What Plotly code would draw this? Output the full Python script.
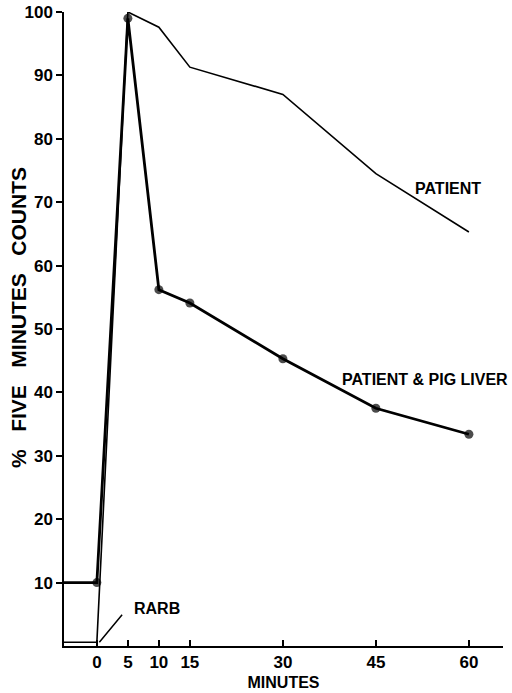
import plotly.graph_objects as go

# Data
patient_minutes = [-5.3, 0, 5, 10, 15, 30, 45, 60]
patient_counts = [0.6, 0.6, 100, 97.6, 91.3, 87.0, 74.5, 65.3]

pig_minutes = [-5.3, 0, 5, 10, 15, 30, 45, 60]
pig_counts = [10, 10, 99, 56.2, 54.1, 45.3, 37.5, 33.4]
pig_marker_sizes = [0, 9, 9, 9, 9, 9, 9, 9]

x_ticks = [0, 5, 10, 15, 30, 45, 60]
y_ticks = [10, 20, 30, 40, 50, 60, 70, 80, 90, 100]

FONT = "Liberation Sans"
W, H = 512, 693
L, R, T, B = 64, 9, 12, 47
pw, ph = W - L - R, H - T - B

fig = go.Figure()
fig.add_trace(go.Scatter(
    x=patient_minutes, y=patient_counts, mode="lines",
    line=dict(color="black", width=1.6), cliponaxis=False,
    name="PATIENT", showlegend=False,
))
fig.add_trace(go.Scatter(
    x=pig_minutes, y=pig_counts, mode="lines+markers",
    line=dict(color="black", width=2.8),
    marker=dict(color="black", size=pig_marker_sizes, line=dict(width=0)),
    cliponaxis=False, name="PATIENT & PIG LIVER", showlegend=False,
))

fig.add_annotation(x=0.4, y=0.6, xref="x", yref="y", text="",
                   showarrow=True, arrowhead=0, arrowwidth=1.5,
                   arrowcolor="black", ax=24, ay=-29)
fig.add_annotation(x=(132 - L) / pw, y=(646 - 608) / ph, xref="paper", yref="paper",
                   text="<b>RARB</b>", showarrow=False, xanchor="left", yanchor="middle",
                   font=dict(family=FONT, size=16, color="black"))
fig.add_annotation(x=56.6, y=72.2, xref="x", yref="y", text="<b>PATIENT</b>",
                   showarrow=False, font=dict(family=FONT, size=16, color="black"))
fig.add_annotation(x=52.9, y=42.1, xref="x", yref="y", text="<b>PATIENT &amp; PIG LIVER</b>",
                   showarrow=False, font=dict(family=FONT, size=16, color="black"))
# y-axis title
fig.add_annotation(x=(18 - L) / pw, y=(646 - 318) / ph, xref="paper", yref="paper",
                   text="<b>%&nbsp;&nbsp;&nbsp;FIVE&nbsp;&nbsp;&nbsp;MINUTES&nbsp;&nbsp;&nbsp;COUNTS</b>",
                   textangle=-90, showarrow=False, xanchor="center", yanchor="middle",
                   font=dict(family=FONT, size=21, color="black"))

fig.update_layout(
    width=W, height=H,
    margin=dict(l=L, r=R, t=T, b=B),
    plot_bgcolor="white", paper_bgcolor="white",
    font=dict(family=FONT, color="black"),
    xaxis=dict(
        range=[-5.3, 65.5], tickvals=x_ticks, ticktext=[str(v) for v in x_ticks],
        automargin=False,
        showgrid=False, zeroline=False, showline=True, linecolor="black", linewidth=1.5,
        ticks="inside", ticklen=6, tickwidth=1.5, tickcolor="black",
        tickfont=dict(family=FONT, size=17, color="black", weight="bold"),
        title=dict(text="<b>MINUTES</b>", font=dict(family=FONT, size=16, color="black"), standoff=6),
    ),
    yaxis=dict(
        range=[0, 100], tickvals=y_ticks, ticktext=[str(v) for v in y_ticks],
        automargin=False,
        showgrid=False, zeroline=False, showline=True, linecolor="black", linewidth=1.5,
        ticks="outside", ticklen=6, tickwidth=1.5, tickcolor="black",
        tickfont=dict(family=FONT, size=17, color="black", weight="bold"),
    ),
)

fig.write_html("out.html", config={"displayModeBar": False},
               post_script="document.body.style.margin='0';")
